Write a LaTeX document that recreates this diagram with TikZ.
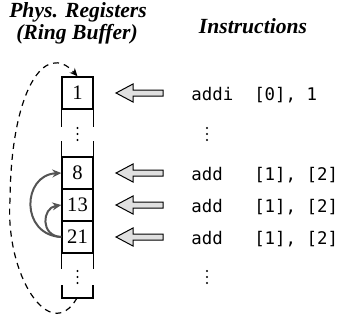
\documentclass[tikz,border=0pt]{standalone}
\usepackage{fontspec}
\setmainfont{Liberation Serif}
\newfontfamily\monof{DejaVu Sans Mono}
\usetikzlibrary{arrows.meta}
\begin{document}
\begin{tikzpicture}[x=0.5pt,y=-0.5pt,
  reg/.style={draw, line width=0.7pt, minimum width=15.5pt, minimum height=16pt, inner sep=0pt, font=\fontsize{10.3}{12}\selectfont},
  side/.style={line width=0.7pt},
  title/.style={font=\fontsize{10.8}{12}\selectfont\bfseries\itshape, anchor=base, inner sep=0pt},
  instr/.style={font=\monof\fontsize{8.7}{10}\selectfont, anchor=base west, inner sep=0pt},
  dep/.style={draw=black!67, line width=1pt, -{Stealth[length=4.5pt,width=4pt]}},
  ring/.style={dashed, dash pattern=on 3pt off 2.5pt, line width=0.6pt, -{Stealth[length=4pt,width=3.5pt]}},
  blockarr/.pic={\draw[line width=0.5pt, fill=black!12] (0,0) -- (17,-9) -- (17,-3) -- (47,-3) -- (47,3) -- (17,3) -- (17,9) -- cycle;},
  vdts/.pic={\foreach \d in {-6,0,6} \fill (0,\d) circle[radius=0.55pt];}
]
\useasboundingbox (0,0) rectangle (340,321);

% titles
\node[title] (t1) at (78,18) {Phys. Registers};
\node[title] (t2) at (77,39) {(Ring Buffer)};
\node[title] (t3) at (253,33) {Instructions};

% registers
\node[reg] (b1) at (77.5,93) {1};
\node[reg] (b8) at (77.5,173) {8};
\node[reg] (b13) at (77.5,205) {13};
\node[reg] (b21) at (77.5,237) {21};

\draw[side] (b1.south west) -- ++(0,17);
\draw[side] (b1.south east) -- ++(0,17);
\draw[side] (b8.north west) -- ++(0,-15);
\draw[side] (b8.north east) -- ++(0,-15);
\draw[side] (b21.south west) -- ++(0,15);
\draw[side] (b21.south east) -- ++(0,15);
\coordinate (bl) at (62,298);
\coordinate (br) at (93,298);
\coordinate (rs) at (77,298);
\draw[side] (62,285) -- (bl) -- (br) -- (93,285);

\pic at (77.5,134) {vdts};
\pic at (77.5,277) {vdts};

% ring wrap-around
\draw[ring] (rs) .. controls (50,345) and (5,275) .. (10,200)
  .. controls (11,90) and (45,40) .. (b1.north);

% dependencies
\draw[dep] (b21.west) .. controls (20,235) and (22,175) .. (b8.west);
\draw[dep] (b21.west) .. controls (40,236) and (42,208) .. (b13.west);

% block arrows
\pic at (116,93) {blockarr};
\pic at (116,173) {blockarr};
\pic at (116,205) {blockarr};
\pic at (116,237) {blockarr};

% instructions
\node[instr] (i1) at (191,100.5) {addi~~[0],~1};
\node[instr] (i2) at (191,180.5) {add~~~[1],~[2]};
\node[instr] (i3) at (191,212.5) {add~~~[1],~[2]};
\node[instr] (i4) at (191,244.5) {add~~~[1],~[2]};
\pic at (207,134) {vdts};
\pic at (207,277) {vdts};
\end{tikzpicture}
\end{document}
